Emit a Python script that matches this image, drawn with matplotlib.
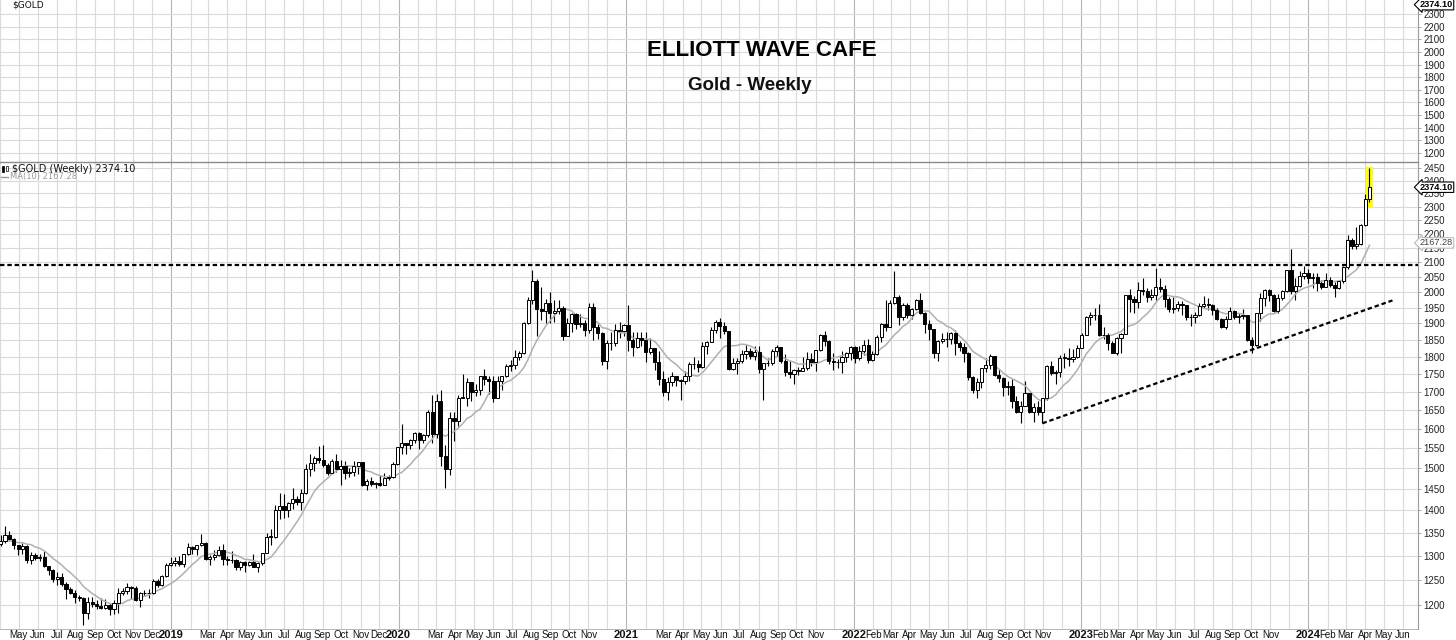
import pandas as pd
import numpy as np
import matplotlib
matplotlib.use("Agg")
import matplotlib.pyplot as plt
import matplotlib.dates as mdates
from matplotlib.patches import Rectangle
from matplotlib.transforms import blended_transform_factory

# weekly bars, first bar is the week of Mon 2018-01-29, open of each bar = previous close
first_week = "2018-01-29"
first_open = 1348

closes = [
    # 2018
    1333, 1315, 1353, 1329, 1322, 1323, 1313, 1347, 1325,
    1332, 1345, 1336, 1323, 1314, 1320, 1291, 1302, 1294, 1298, 1278, 1270, 1252,
    1255, 1241, 1231, 1223, 1214, 1212, 1184, 1206, 1201, 1197, 1194, 1199, 1192,
    1203, 1222, 1227, 1235, 1233, 1209, 1222, 1223, 1222, 1248, 1238, 1257, 1281,
    # 2019
    1285, 1289, 1282, 1303, 1318, 1314, 1322, 1328, 1293, 1298, 1302, 1313, 1292,
    1291, 1290, 1276, 1286, 1280, 1286, 1277, 1284, 1305, 1341, 1341, 1400, 1409,
    1400, 1416, 1426, 1419, 1440, 1497, 1513, 1526, 1520, 1507, 1488, 1517, 1497,
    1505, 1489, 1490, 1505, 1514, 1459, 1468, 1462, 1464, 1460, 1476, 1478, 1510,
    # 2020
    1552, 1562, 1557, 1571, 1589, 1570, 1584, 1643, 1585, 1674, 1530, 1498, 1628,
    1620, 1683, 1683, 1727, 1700, 1703, 1744, 1734, 1730, 1683, 1730, 1743, 1771,
    1774, 1798, 1810, 1902, 1975, 2035, 1944, 1940, 1964, 1933, 1940, 1950, 1862,
    1900, 1930, 1899, 1902, 1879, 1951, 1889, 1871, 1788, 1839, 1840, 1881, 1877,
    # 2021
    1895, 1850, 1829, 1856, 1848, 1814, 1824, 1784, 1734, 1700, 1727, 1745, 1733,
    1729, 1744, 1777, 1777, 1769, 1831, 1844, 1881, 1905, 1892, 1877, 1764, 1781,
    1787, 1808, 1815, 1802, 1814, 1763, 1780, 1781, 1817, 1827, 1787, 1754, 1750,
    1761, 1757, 1768, 1793, 1783, 1818, 1865, 1846, 1788, 1783, 1783, 1799, 1809, 1829,
    # 2022
    1797, 1817, 1835, 1791, 1808, 1859, 1898, 1889, 1966, 1985, 1921, 1958, 1925,
    1946, 1974, 1932, 1897, 1883, 1811, 1846, 1853, 1851, 1871, 1840, 1827, 1811,
    1742, 1703, 1727, 1766, 1775, 1802, 1747, 1737, 1712, 1716, 1675, 1643, 1661,
    1695, 1644, 1657, 1645, 1681, 1771, 1751, 1755, 1797, 1797, 1793, 1798, 1824,
    # 2023
    1865, 1920, 1926, 1928, 1865, 1865, 1841, 1811, 1856, 1868, 1989, 1978, 1969,
    2008, 2004, 1983, 1990, 2017, 2011, 1978, 1946, 1948, 1961, 1958, 1921, 1919,
    1925, 1955, 1962, 1959, 1943, 1914, 1889, 1915, 1940, 1919, 1924, 1925, 1848,
    1833, 1932, 1981, 2006, 1992, 1940, 1981, 2002, 2072, 2004, 2019, 2053, 2063,
    # 2024
    2045, 2049, 2029, 2018, 2039, 2024, 2013, 2035, 2083, 2179, 2156, 2165, 2233,
    2329, 2374.10,
]

highs = [
    # 2018
    1355, 1340, 1362, 1356, 1337, 1331, 1326, 1349, 1356,
    1344, 1365, 1354, 1338, 1322, 1326, 1322, 1307, 1306, 1303, 1310, 1279, 1272,
    1265, 1263, 1245, 1235, 1228, 1219, 1215, 1214, 1214, 1208, 1212, 1211, 1204,
    1208, 1233, 1233, 1243, 1237, 1237, 1225, 1229, 1230, 1251, 1252, 1260, 1284,
    # 2019
    1298, 1297, 1299, 1303, 1326, 1320, 1323, 1347, 1330, 1301, 1311, 1320, 1324,
    1300, 1310, 1292, 1288, 1289, 1288, 1303, 1287, 1306, 1348, 1358, 1411, 1439,
    1438, 1419, 1453, 1434, 1449, 1510, 1535, 1531, 1555, 1557, 1512, 1523, 1535,
    1519, 1517, 1501, 1518, 1516, 1511, 1474, 1478, 1467, 1484, 1487, 1482, 1514,
    # 2020
    1553, 1611, 1563, 1574, 1591, 1591, 1585, 1649, 1689, 1692, 1704, 1557, 1645,
    1645, 1690, 1748, 1739, 1722, 1722, 1745, 1765, 1744, 1744, 1745, 1745, 1779,
    1789, 1818, 1815, 1904, 1984, 2075, 2043, 2016, 1977, 2000, 1973, 1973, 1955,
    1917, 1933, 1933, 1931, 1911, 1965, 1965, 1898, 1875, 1848, 1875, 1897, 1906,
    # 2021
    1899, 1959, 1875, 1875, 1875, 1875, 1855, 1825, 1815, 1759, 1740, 1755, 1744,
    1735, 1758, 1784, 1798, 1789, 1843, 1846, 1890, 1912, 1916, 1904, 1878, 1795,
    1795, 1818, 1834, 1826, 1832, 1832, 1782, 1795, 1823, 1834, 1827, 1808, 1787,
    1765, 1770, 1800, 1814, 1810, 1818, 1868, 1877, 1850, 1809, 1793, 1815, 1812, 1831,
    # 2022
    1832, 1830, 1848, 1853, 1815, 1865, 1902, 1974, 1974, 2070, 1991, 1966, 1966,
    1948, 1978, 1998, 1937, 1910, 1884, 1849, 1870, 1874, 1875, 1879, 1847, 1841,
    1812, 1745, 1739, 1767, 1795, 1808, 1802, 1765, 1740, 1729, 1735, 1688, 1675,
    1730, 1696, 1667, 1675, 1681, 1774, 1786, 1760, 1804, 1810, 1824, 1823, 1834,
    # 2023
    1870, 1922, 1937, 1949, 1960, 1890, 1870, 1845, 1858, 1870, 1990, 2010, 1987,
    2032, 2048, 2015, 2010, 2079, 2048, 2022, 1985, 1983, 1971, 1971, 1959, 1931,
    1935, 1964, 1987, 1982, 1961, 1948, 1916, 1924, 1953, 1942, 1932, 1947, 1926,
    1857, 1933, 1997, 2009, 2010, 1993, 1993, 2008, 2075, 2146, 2047, 2070, 2088,
    # 2024
    2078, 2062, 2062, 2041, 2065, 2051, 2032, 2041, 2088, 2195, 2185, 2223, 2236,
    2346, 2448,
]

lows = [
    # 2018
    1330, 1307, 1314, 1322, 1303, 1316, 1309, 1308, 1322,
    1321, 1326, 1332, 1315, 1302, 1304, 1285, 1282, 1291, 1288, 1275, 1260, 1245,
    1238, 1237, 1211, 1220, 1204, 1207, 1160, 1172, 1195, 1191, 1192, 1192, 1180,
    1182, 1183, 1218, 1220, 1211, 1207, 1196, 1216, 1212, 1221, 1235, 1236, 1256,
    # 2019
    1279, 1279, 1279, 1276, 1302, 1303, 1302, 1320, 1291, 1281, 1290, 1299, 1281,
    1281, 1285, 1270, 1270, 1266, 1278, 1275, 1266, 1280, 1306, 1322, 1338, 1381,
    1383, 1385, 1403, 1412, 1400, 1437, 1480, 1492, 1512, 1502, 1484, 1490, 1490,
    1459, 1474, 1478, 1480, 1486, 1456, 1446, 1456, 1452, 1457, 1459, 1471, 1477,
    # 2020
    1508, 1535, 1536, 1547, 1563, 1548, 1562, 1578, 1564, 1575, 1504, 1451, 1482,
    1568, 1606, 1681, 1659, 1673, 1688, 1691, 1717, 1693, 1670, 1683, 1704, 1740,
    1757, 1763, 1791, 1807, 1899, 1963, 1863, 1911, 1903, 1903, 1906, 1931, 1849,
    1860, 1873, 1883, 1890, 1860, 1870, 1850, 1853, 1775, 1764, 1820, 1832, 1855,
    # 2021
    1860, 1817, 1803, 1824, 1831, 1785, 1807, 1760, 1717, 1687, 1676, 1714, 1715,
    1677, 1721, 1730, 1765, 1756, 1768, 1808, 1842, 1870, 1855, 1867, 1761, 1761,
    1750, 1782, 1792, 1794, 1790, 1753, 1677, 1772, 1774, 1802, 1782, 1745, 1737,
    1721, 1746, 1757, 1760, 1772, 1759, 1817, 1832, 1778, 1762, 1767, 1753, 1785, 1789,
    # 2022
    1782, 1789, 1805, 1780, 1788, 1806, 1842, 1878, 1889, 1960, 1895, 1910, 1917,
    1915, 1941, 1929, 1872, 1850, 1797, 1787, 1840, 1829, 1836, 1805, 1816, 1784,
    1732, 1697, 1681, 1711, 1754, 1765, 1745, 1728, 1688, 1691, 1654, 1640, 1615,
    1660, 1640, 1618, 1636, 1616, 1676, 1747, 1722, 1741, 1766, 1773, 1785, 1795,
    # 2023
    1824, 1865, 1896, 1911, 1861, 1853, 1819, 1809, 1804, 1809, 1867, 1935, 1934,
    1949, 1990, 1969, 1974, 1975, 2000, 1952, 1937, 1932, 1939, 1925, 1911, 1893,
    1902, 1922, 1948, 1942, 1927, 1911, 1885, 1884, 1914, 1914, 1901, 1913, 1846,
    1810, 1832, 1908, 1954, 1970, 1935, 1932, 1975, 2001, 1995, 1973, 2016, 2044,
    # 2024
    2030, 2013, 2002, 2010, 2016, 2016, 1984, 2011, 2030, 2078, 2146, 2146, 2159,
    2228, 2316,
]

ma_label = "2167.28"
ma_value = 2167.28
resistance = 2090
trend_dates = ["2022-10-31", "2024-05-15"]
trend_prices = [1614, 1973]
highlight_low, highlight_high = 2295, 2455

hidden_months = ["2019-02", "2020-02", "2021-02", "2020-12", "2021-12", "2022-12", "2023-12"]
main_ticks = list(range(1200, 2451, 50))
top_ticks = list(range(1200, 2301, 100))

# ---------------------------------------------------------------
dates = pd.date_range(first_week, periods=len(closes), freq="W-MON")
x = mdates.date2num(dates)
c = np.array(closes, dtype=float)
o = np.concatenate([[first_open], c[:-1]])
hi = np.array(highs, dtype=float)
lo = np.array(lows, dtype=float)
ma10 = pd.Series(c).rolling(10).mean().values

W, H = 1456, 640
fig = plt.figure(figsize=(W / 100, H / 100), dpi=100)
plt.rcParams["font.family"] = ["Liberation Sans", "DejaVu Sans"]


def px_axes(x0, y0, x1, y1):
    return fig.add_axes([x0 / W, 1 - y1 / H, (x1 - x0) / W, (y1 - y0) / H])


ax_top = px_axes(0, 0, 1418, 162)
ax = px_axes(0, 162, 1418, 629)

xmin = mdates.date2num(pd.Timestamp("2018-04-01"))
xmax = mdates.date2num(pd.Timestamp("2024-06-25"))
grid_months = pd.date_range("2018-04-01", "2024-06-01", freq="MS")

for a in (ax_top, ax):
    a.set_xlim(xmin, xmax)
    for d in grid_months:
        col = "#b4b4b4" if d.month == 1 else "#dadada"
        a.axvline(mdates.date2num(d), color=col, lw=0.8, zorder=0)
    a.yaxis.tick_right()
    a.tick_params(axis="y", direction="out", length=2, width=0.6, color="#999999",
                  pad=2, labelsize=7, labelcolor="#222222")
    for s in ("left", "top", "bottom"):
        a.spines[s].set_visible(False)
    a.spines["right"].set_color("#9a9a9a")
    a.spines["right"].set_linewidth(0.8)

# top (empty) panel
ax_top.set_ylim(1129, 2411)
ax_top.set_yticks(top_ticks)
ax_top.set_yticklabels([str(t) for t in top_ticks])
ax_top.set_xticks([])
for t in top_ticks:
    ax_top.axhline(t, color="#dadada", lw=0.8, zorder=0)
ax_top.text(12 / 1418, 1 - 5 / 162, "$GOLD", transform=ax_top.transAxes,
            family="DejaVu Sans", fontsize=6.5, va="center", ha="left", color="#111111")

# main panel
ax.set_yscale("log")
ax.set_ylim(1153, 2474)
ax.yaxis.set_minor_locator(matplotlib.ticker.NullLocator())
ax.set_yticks(main_ticks)
ax.set_yticklabels([str(t) for t in main_ticks])
ax.spines["top"].set_visible(True)
ax.spines["top"].set_color("#8a8a8a")
ax.spines["top"].set_linewidth(1.0)
ax.spines["bottom"].set_visible(True)
ax.spines["bottom"].set_color("#aaaaaa")
ax.spines["bottom"].set_linewidth(0.6)
ax.spines["bottom"].set_linestyle((0, (1, 1)))
for t in main_ticks:
    ax.axhline(t, color="#dadada", lw=0.8, zorder=0)

month_labels = []
for d in pd.date_range("2018-05-01", "2024-06-01", freq="MS"):
    if d.month == 1:
        month_labels.append((d, str(d.year)))
    elif d.strftime("%Y-%m") in hidden_months:
        month_labels.append((d, ""))
    else:
        month_labels.append((d, d.strftime("%b")))
ax.set_xticks([mdates.date2num(d) for d, _ in month_labels])
ax.set_xticklabels([s for _, s in month_labels])
ax.tick_params(axis="x", length=0, pad=1, labelsize=7, labelcolor="#111111")
for lbl, (d, _) in zip(ax.get_xticklabels(), month_labels):
    if d.month == 1:
        lbl.set_fontweight("bold")
        lbl.set_fontsize(8)

# yellow highlight on the last bar
ax.add_patch(Rectangle((x[-1] - 6, highlight_low), 12, highlight_high - highlight_low,
                       facecolor="#ffff00", edgecolor="none", zorder=1))

# candles
up = c >= o
ax.vlines(x, lo, hi, color="black", lw=0.8, zorder=2)
body_low = np.minimum(o, c)
body_h = np.maximum(np.abs(c - o), 0.8)
ax.bar(x, body_h, bottom=body_low, width=5.0,
       color=np.where(up, "white", "black"), edgecolor="black", linewidth=0.7, zorder=3)

ax.plot(x, ma10, color="#b0b0b0", lw=1.1, zorder=2.5)

# support / resistance
dash = (0, (2.0, 1.3))
ax.axhline(resistance, color="black", lw=1.6, ls=dash, zorder=4)
ax.plot(mdates.date2num(pd.to_datetime(trend_dates)), trend_prices,
        color="black", lw=1.6, ls=dash, zorder=4)

# legend texts
ax.text(12 / 1418, 1 - 7 / 467, "$GOLD (Weekly) 2374.10", transform=ax.transAxes,
        family="DejaVu Sans", fontsize=7, va="center", ha="left", color="#111111")
ax.plot([1 / 1418, 8 / 1418], [1 - 15 / 467, 1 - 15 / 467], transform=ax.transAxes,
        color="#999999", lw=1, clip_on=False)
ax.text(10 / 1418, 1 - 15 / 467, "MA(10) " + ma_label, transform=ax.transAxes,
        family="DejaVu Sans", fontsize=6, va="center", ha="left", color="#9a9a9a")
ax.add_patch(Rectangle((2 / 1418, 1 - 10 / 467), 2 / 1418, 6 / 467, transform=ax.transAxes,
                       facecolor="black", edgecolor="black", lw=0.5, clip_on=False))
ax.add_patch(Rectangle((6 / 1418, 1 - 9 / 467), 2 / 1418, 5 / 467, transform=ax.transAxes,
                       facecolor="white", edgecolor="black", lw=0.5, clip_on=False))

# price tags on the right
tag_x = 1453 / 1418
tr_main = blended_transform_factory(ax.transAxes, ax.transData)
ax.text(tag_x, closes[-1], "%.2f" % closes[-1], transform=tr_main, fontsize=6.6,
        fontweight="bold", va="center", ha="right", color="black", zorder=6,
        bbox=dict(boxstyle="larrow,pad=0.08", fc="white", ec="black", lw=0.8))
ax.text(tag_x, ma_value, ma_label, transform=tr_main, fontsize=6.6,
        va="center", ha="right", color="#444444", zorder=6,
        bbox=dict(boxstyle="larrow,pad=0.08", fc="white", ec="#bbbbbb", lw=0.8))
tr_top = blended_transform_factory(ax_top.transAxes, ax_top.transData)
ax_top.text(tag_x, closes[-1], "%.2f" % closes[-1], transform=tr_top, fontsize=6.6,
            fontweight="bold", va="center", ha="right", color="black", zorder=6,
            bbox=dict(boxstyle="larrow,pad=0.08", fc="white", ec="black", lw=0.8))

# title
fig.text(762 / W, 1 - 51 / H, "ELLIOTT WAVE CAFE", fontsize=16, fontweight="bold",
         ha="center", va="center", color="black")
fig.text(750 / W, 1 - 85 / H, "Gold - Weekly", fontsize=13.5, fontweight="bold",
         ha="center", va="center", color="#111111")

fig.savefig("out.png", dpi=100, facecolor="white")
